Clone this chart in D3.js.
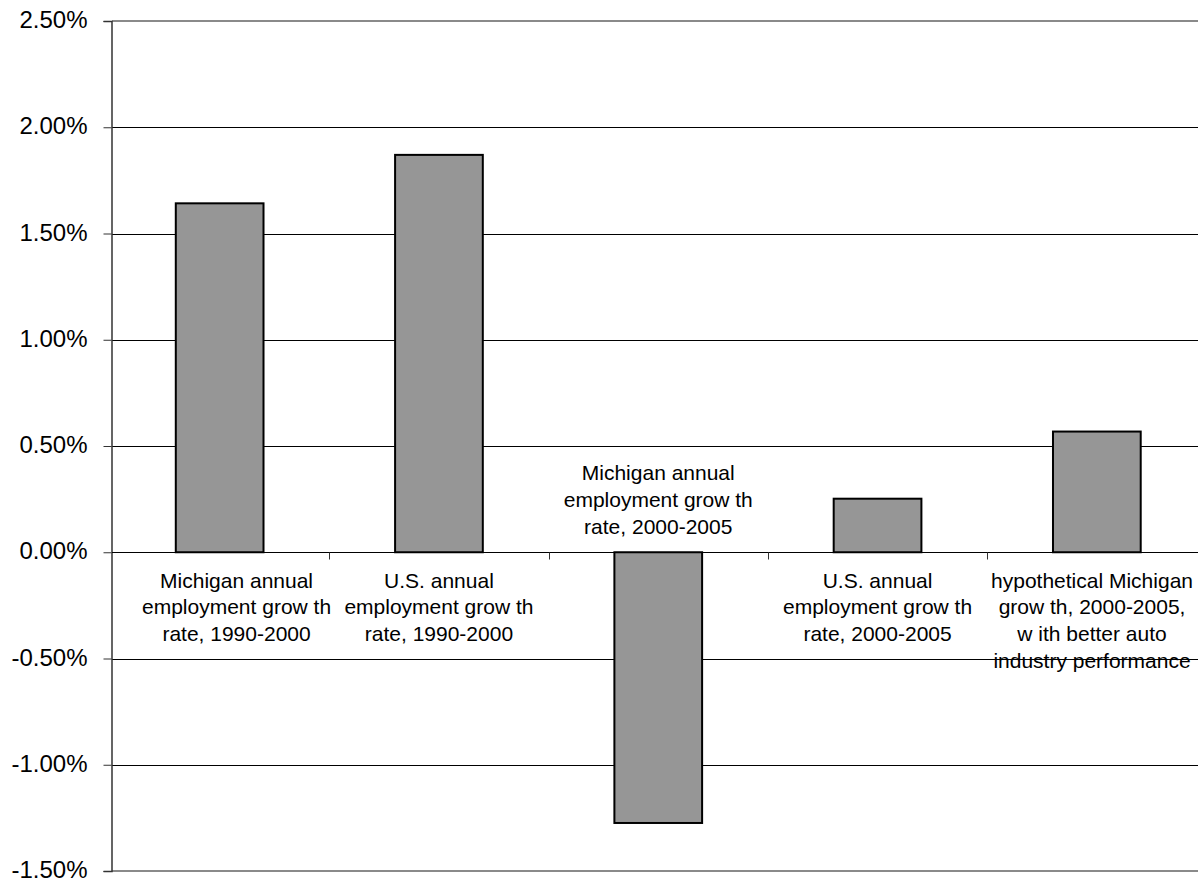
<!DOCTYPE html>
<html>
<head>
<meta charset="utf-8">
<script src="https://cdn.jsdelivr.net/npm/d3@7"></script>
<style>
  html, body { margin: 0; padding: 0; background: #fff; }
  svg text { font-family: "Liberation Sans", Arial, sans-serif; fill: #000; }
</style>
</head>
<body>
<svg id="chart" width="1198" height="880"></svg>
<script>
// Category labels (each entry is a list of wrapped lines)
const categories = [
  ["Michigan annual", "employment grow th", "rate, 1990-2000"],
  ["U.S. annual", "employment grow th", "rate, 1990-2000"],
  ["Michigan annual", "employment grow th", "rate, 2000-2005"],
  ["U.S. annual", "employment grow th", "rate, 2000-2005"],
  ["hypothetical Michigan", "grow th, 2000-2005,", "w ith better auto", "industry performance"]
];
// Annual employment growth rates, in percent
const values = [1.642, 1.870, -1.274, 0.252, 0.568];
// Value-axis ticks, in percent
const yTicks = [2.5, 2.0, 1.5, 1.0, 0.5, 0.0, -0.5, -1.0, -1.5];

const svg = d3.select("#chart");
const W = 1198;
const axisX = 112, plotTop = 21, plotBottom = 871;
const bandStart = 110, bandStep = 219.3;   // the last category runs past the page edge

const x = d3.scaleBand()
  .domain(d3.range(categories.length))
  .range([bandStart, bandStart + categories.length * bandStep])
  .paddingInner(0.6)
  .paddingOuter(0.3);

const y = d3.scaleLinear().domain([-1.5, 2.5]).range([plotBottom, plotTop]);

// Horizontal gridlines
svg.append("g").selectAll("line")
  .data(yTicks.filter(d => d !== 2.5 && d !== -1.5))
  .join("line")
  .attr("x1", axisX).attr("x2", W)
  .attr("y1", d => Math.round(y(d)) + 0.5).attr("y2", d => Math.round(y(d)) + 0.5)
  .attr("stroke", "#000").attr("stroke-width", 1);

// Plot-area top and bottom border
svg.append("g").selectAll("line")
  .data([2.5, -1.5])
  .join("line")
  .attr("x1", axisX).attr("x2", W)
  .attr("y1", d => Math.round(y(d))).attr("y2", d => Math.round(y(d)))
  .attr("stroke", "#8a8a8a").attr("stroke-width", 2);

// Bars
svg.append("g").selectAll("rect")
  .data(values)
  .join("rect")
  .attr("x", (d, i) => x(i))
  .attr("width", x.bandwidth())
  .attr("y", d => y(Math.max(0, d)))
  .attr("height", d => Math.abs(y(d) - y(0)))
  .attr("fill", "#969696")
  .attr("stroke", "#000")
  .attr("stroke-width", 2);

// Value axis
const pct = d3.format(".2f");
const yAxis = d3.axisLeft(y)
  .tickValues(yTicks)
  .tickSize(8)
  .tickPadding(16)
  .tickFormat(d => pct(d).replace("\u2212", "-") + "%");
const ya = svg.append("g").attr("transform", `translate(${axisX - 0.5},0)`).call(yAxis);
ya.select(".domain").attr("stroke", "#333").attr("stroke-width", 1.5);
ya.selectAll(".tick line").attr("stroke", "#333");
ya.selectAll(".tick text")
  .attr("font-size", 24)
  .attr("font-family", "'Liberation Sans', Arial, sans-serif")
  .attr("fill", "#000")
  .attr("dy", "0.28em");

// Category axis along zero with downward ticks at band boundaries
const zeroY = Math.round(y(0)) + 0.5;
svg.append("line")
  .attr("x1", axisX).attr("x2", W)
  .attr("y1", zeroY).attr("y2", zeroY)
  .attr("stroke", "#000");
svg.append("g").selectAll("line")
  .data(d3.range(1, categories.length))
  .join("line")
  .attr("x1", i => Math.round(bandStart + i * x.step()) + 0.5)
  .attr("x2", i => Math.round(bandStart + i * x.step()) + 0.5)
  .attr("y1", zeroY).attr("y2", zeroY + 7)
  .attr("stroke", "#333");

// Category labels: below the axis for positive bars, above it for negative ones
const lineH = 26.7;
const labels = svg.append("g").selectAll("text")
  .data(categories)
  .join("text")
  .attr("font-size", 21)
  .attr("text-anchor", "middle");

labels.each(function(lines, i) {
  const t = d3.select(this);
  const cx = x(i) + x.bandwidth() / 2;
  const n = lines.length;
  const firstBase = values[i] >= 0
    ? zeroY + 35
    : zeroY - 19 - (n - 1) * lineH;
  lines.forEach((ln, k) => {
    t.append("tspan").attr("x", cx).attr("y", firstBase + k * lineH).text(ln);
  });
  // keep the wrapped block inside the chart area
  const bw = this.getBBox().width;
  const lo = axisX + 30 + bw / 2, hi = W - 5 - bw / 2;
  const cc = Math.min(Math.max(cx, lo), hi);
  t.selectAll("tspan").attr("x", cc);
});
</script>
</body>
</html>
